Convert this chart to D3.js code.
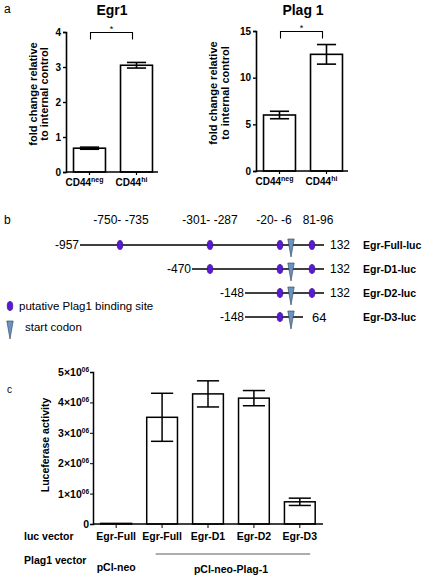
<!DOCTYPE html>
<html><head><meta charset="utf-8">
<script src="https://cdn.jsdelivr.net/npm/d3@7"></script>
<style>
body{margin:0;background:#fff;}
svg{display:block;font-family:"Liberation Sans",Arial,Helvetica,sans-serif;}
</style></head>
<body>
<svg id="c" width="430" height="576"></svg>
<script>
// ---- Panel a data ----
const aCategories = ["CD44neg", "CD44hi"];
const egr1Values = [0.68, 3.05];
const egr1Errors = [0.03, 0.08];
const egr1Ticks = [0, 1, 2, 3, 4];
const plag1Values = [6.0, 12.5];
const plag1Errors = [0.4, 1.05];
const plag1Ticks = [0, 5, 10, 15];

// ---- Panel b data ----
const constructNames = ["Egr-Full-luc", "Egr-D1-luc", "Egr-D2-luc", "Egr-D3-luc"];
const constructStarts = [-957, -470, -148, -148];
const constructEnds = [132, 132, 132, 64];
const siteNames = ["-750- -735", "-301- -287", "-20- -6", "81-96"];
const sitePositions = [-742, -294, -13, 88];
const startCodonPos = 1;

// ---- Panel c data ----
const cLucVector = ["Egr-Full", "Egr-Full", "Egr-D1", "Egr-D2", "Egr-D3"];
const cValues = [0.02e6, 3.51e6, 4.28e6, 4.14e6, 0.73e6];
const cErrors = [0, 0.79, 0.43, 0.25, 0.12].map(v => v * 1e6);
const cTicks = [0, 1e6, 2e6, 3e6, 4e6, 5e6];

const svg = d3.select("#c");
const BOLD = "bold";

function txt(x, y, s, opts = {}) {
  return svg.append("text").attr("x", x).attr("y", y).text(s)
    .attr("font-size", opts.size || 11)
    .attr("font-weight", opts.weight || "normal")
    .attr("text-anchor", opts.anchor || "start")
    .attr("fill", "#000");
}

// ---------- Panel a ----------
function barPanel(cfg) {
  const g = svg.append("g");
  const x = d3.scaleBand().domain(aCategories).range([cfg.x0, cfg.x0 + 94]).paddingInner(0.32).paddingOuter(0.16);
  const y = d3.scaleLinear().domain([0, cfg.max]).range([cfg.yb, cfg.yt]);
  g.selectAll("rect").data(cfg.values).join("rect")
    .attr("x", (d, i) => x(aCategories[i])).attr("width", x.bandwidth())
    .attr("y", d => y(d)).attr("height", d => y(0) - y(d))
    .attr("fill", "#fff").attr("stroke", "#000").attr("stroke-width", 1.6);
  cfg.values.forEach((v, i) => {
    const cx = x(aCategories[i]) + x.bandwidth() / 2;
    const e = cfg.errors[i];
    const w = x.bandwidth() * 0.3;
    g.append("line").attr("x1", cx).attr("x2", cx).attr("y1", y(v + e)).attr("y2", y(v - e)).attr("stroke", "#000").attr("stroke-width", 1.6);
    [v + e, v - e].forEach(t => g.append("line").attr("x1", cx - w).attr("x2", cx + w).attr("y1", y(t)).attr("y2", y(t)).attr("stroke", "#000").attr("stroke-width", 1.6));
  });
  const ya = g.append("g").attr("transform", `translate(${cfg.x0},0)`)
    .call(d3.axisLeft(y).tickValues(cfg.ticks).tickSize(3).tickPadding(2).tickFormat(d3.format("d")));
  ya.select(".domain").attr("stroke-width", 1.6);
  ya.selectAll(".tick line").attr("stroke-width", 1.4);
  ya.selectAll("text").attr("font-size", 10).attr("font-weight", BOLD).attr("font-family", "Liberation Sans, Arial, sans-serif");
  const xa = g.append("g").attr("transform", `translate(0,${cfg.yb})`)
    .call(d3.axisBottom(x).tickSize(3).tickFormat(""));
  xa.select(".domain").attr("d", `M${cfg.x0},0H${cfg.x0 + 92}`).attr("stroke-width", 1.6);
  xa.selectAll(".tick line").attr("stroke-width", 1.2);
  aCategories.forEach((c, i) => {
    const cx = x(c) + x.bandwidth() / 2;
    const base = c.slice(0, 4), sup = c.slice(4);
    const t = svg.append("text").attr("x", cx - 5).attr("y", cfg.yb + 14)
      .attr("text-anchor", "middle").attr("font-weight", BOLD).attr("font-size", 10);
    t.append("tspan").text(base);
    t.append("tspan").text(sup).attr("font-size", 7).attr("dy", -4);
  });
  txt(cfg.titleX, 15, cfg.title, { size: 14, weight: BOLD, anchor: "middle" });
  const ly = (cfg.yt + cfg.yb) / 2 - 8;
  [["fold change relative", cfg.lab1], ["to internal control", cfg.lab2]].forEach(([s, bx]) => {
    svg.append("text").attr("transform", `translate(${bx},${ly}) rotate(-90)`)
      .attr("text-anchor", "middle").attr("font-size", 11).attr("font-weight", BOLD).text(s);
  });
  const c1 = x(aCategories[0]) + x.bandwidth() / 2 + 1;
  const c2 = x(aCategories[1]) + x.bandwidth() / 2 - 4;
  const by = y(cfg.max) + 0.5;
  g.append("path").attr("d", `M${c1},${by + 7}V${by}H${c2}V${by + 7}`).attr("fill", "none").attr("stroke", "#000").attr("stroke-width", 1.1);
  txt((c1 + c2) / 2, by - 1, "*", { size: 9, anchor: "middle" });
}

txt(4, 13, "a", { size: 12 });
barPanel({ x0: 66, yb: 172, yt: 32, max: 4, values: egr1Values, errors: egr1Errors, ticks: egr1Ticks, title: "Egr1", titleX: 112, lab1: 37, lab2: 48 });
barPanel({ x0: 256, yb: 171, yt: 31, max: 15, values: plag1Values, errors: plag1Errors, ticks: plag1Ticks, title: "Plag 1", titleX: 303, lab1: 217, lab2: 229 });

// ---------- Panel b ----------
txt(4, 224, "b", { size: 12 });
const gx = d3.scaleLinear()
  .domain([-957, -742, -470, -294, -148, -13, 1, 64, 88, 132])
  .range([80, 120, 192, 210, 245, 280, 291, 303, 312, 324]);
const gy = d3.scalePoint().domain(constructNames).range([245, 317]);
const PURPLE = "#5a18d8", BLUE = "#6b93c0";
const headerShift = [1, 0, -6, 6];

sitePositions.forEach((p, i) => txt(gx(p) + headerShift[i], 224, siteNames[i], { size: 12, anchor: "middle" }));

function ellipse(cx, cy) {
  svg.append("ellipse").attr("cx", cx).attr("cy", cy).attr("rx", 2.8).attr("ry", 4.6)
    .attr("fill", PURPLE).attr("stroke", "#2a0a70").attr("stroke-width", 0.6);
}
function codon(cx, cy) {
  svg.append("path").attr("d", `M${cx - 3.2},${cy - 6}H${cx + 3.2}L${cx + 1.6},${cy + 3}L${cx},${cy + 12}L${cx - 1.6},${cy + 3}Z`)
    .attr("fill", BLUE).attr("stroke", "#2c3e55").attr("stroke-width", 0.6);
}

constructNames.forEach((n, i) => {
  const yy = gy(n);
  const s = constructStarts[i], e = constructEnds[i];
  svg.append("line").attr("x1", gx(s)).attr("x2", gx(e)).attr("y1", yy).attr("y2", yy).attr("stroke", "#000").attr("stroke-width", 1.7);
  txt(gx(s) - 1, yy + 4, String(s), { size: 12, anchor: "end" });
  const big = e < 100;
  txt(gx(e) + (big ? 9 : 6), yy + (big ? 5 : 4), String(e), { size: big ? 13 : 12 });
  txt(363, yy + 4, n, { size: 10.5, weight: BOLD });
  sitePositions.filter(p => p >= s && p <= e).forEach(p => ellipse(gx(p), yy));
  codon(gx(startCodonPos), yy);
});

ellipse(10, 306);
txt(19, 310, "putative Plag1 binding site", { size: 11.5 });
codon(10, 327);
txt(25, 331, "start codon", { size: 11.5 });

// ---------- Panel c ----------
txt(7, 393, "c", { size: 10 });
const cx = d3.scaleBand().domain(d3.range(cValues.length)).range([93, 323]).paddingInner(0.33).paddingOuter(0.17);
const cy = d3.scaleLinear().domain([0, 5e6]).range([524, 372]);
const gc = svg.append("g");
gc.selectAll("rect").data(cValues).join("rect")
  .attr("x", (d, i) => cx(i)).attr("width", cx.bandwidth())
  .attr("y", d => cy(d)).attr("height", d => cy(0) - cy(d))
  .attr("fill", "#fff").attr("stroke", "#000").attr("stroke-width", 1.5);
cValues.forEach((v, i) => {
  const e = cErrors[i];
  if (!e) return;
  const mx = cx(i) + cx.bandwidth() / 2, w = cx.bandwidth() * 0.36;
  gc.append("line").attr("x1", mx).attr("x2", mx).attr("y1", cy(v + e)).attr("y2", cy(v - e)).attr("stroke", "#000").attr("stroke-width", 1.5);
  [v + e, v - e].forEach(t => gc.append("line").attr("x1", mx - w).attr("x2", mx + w).attr("y1", cy(t)).attr("y2", cy(t)).attr("stroke", "#000").attr("stroke-width", 1.5));
});
const cya = gc.append("g").attr("transform", "translate(93,0)")
  .call(d3.axisLeft(cy).tickValues(cTicks).tickSize(3).tickPadding(2).tickFormat(""));
cya.select(".domain").attr("stroke-width", 1.5);
cTicks.forEach(t => {
  const tt = svg.append("text").attr("x", 89).attr("y", cy(t) + 4).attr("text-anchor", "end")
    .attr("font-weight", BOLD).attr("font-size", 10.5);
  if (t === 0) { tt.text("0"); return; }
  tt.append("tspan").text(`${t / 1e6}×10`);
  tt.append("tspan").text("06").attr("font-size", 6.5).attr("dy", -4);
});
const cxa = gc.append("g").attr("transform", "translate(0,524)")
  .call(d3.axisBottom(cx).tickSize(4).tickFormat(""));
cxa.select(".domain").attr("d", "M93,0H323").attr("stroke-width", 1.5);
svg.append("text").attr("transform", "translate(49,445) rotate(-90)").attr("text-anchor", "middle")
  .attr("font-size", 10.5).attr("font-weight", BOLD).text("Luceferase activity");
cLucVector.forEach((s, i) => txt(cx(i) + cx.bandwidth() / 2, 540, s, { size: 10.5, weight: BOLD, anchor: "middle" }));
txt(24, 540, "luc vector", { size: 10.5, weight: BOLD });
txt(24, 564, "Plag1 vector", { size: 10.5, weight: BOLD });
txt(cx(0) + cx.bandwidth() / 2, 571, "pCl-neo", { size: 10.5, weight: BOLD, anchor: "middle" });
svg.append("line").attr("x1", cx(1) + 9).attr("x2", cx(4) + cx.bandwidth() - 5).attr("y1", 554).attr("y2", 554).attr("stroke", "#333").attr("stroke-width", 0.8);
txt((cx(1) + cx(4) + cx.bandwidth()) / 2, 573, "pCl-neo-Plag-1", { size: 10.5, weight: BOLD, anchor: "middle" });
</script>
</body></html>
